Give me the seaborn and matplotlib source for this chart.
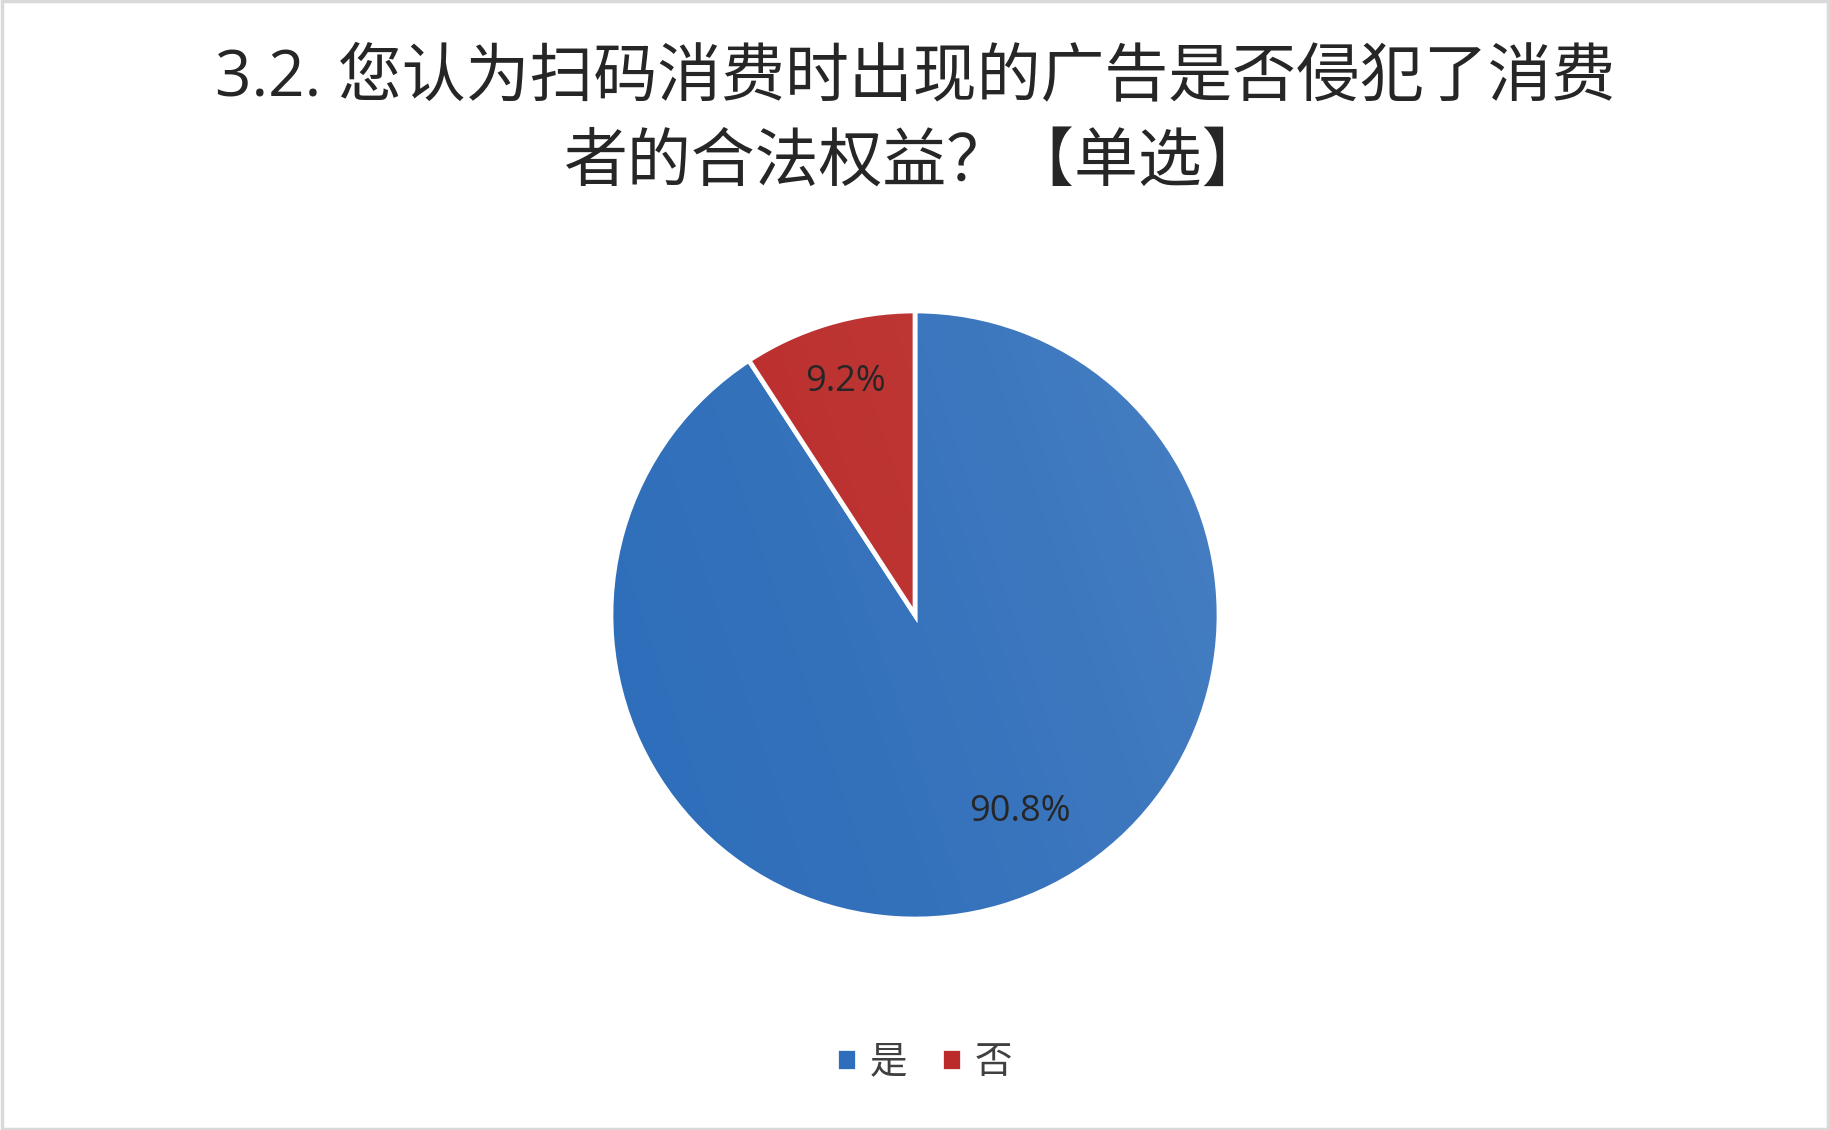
import numpy as np
import seaborn as sns
import matplotlib
matplotlib.use('Agg')
import matplotlib.pyplot as plt
from matplotlib.patches import Rectangle

# 数据
labels = ['是', '否']
values = [90.8, 9.2]
colors = ['#2F6EBA', '#BA2B29']
title = '3.2. 您认为扫码消费时出现的广告是否侵犯了消费\n者的合法权益？【单选】'

sns.set_theme(style='white')
plt.rcParams['font.family'] = ['Noto Sans CJK SC', 'DejaVu Sans']

W, H = 1830, 1130
fig = plt.figure(figsize=(W / 100, H / 100), dpi=100)
fig.patch.set_facecolor('white')

# 饼图区域：圆心 (915, 615)，半径约 304 像素
r_px = 304
side = 720
cx, cy = 915, 615
ax = fig.add_axes([(cx - side / 2) / W, (H - cy - side / 2) / H, side / W, side / H])
lim = side / 2 / r_px

wedges, _, autotexts = ax.pie(
    values, colors=colors, startangle=90, counterclock=False,
    autopct='%.1f%%', pctdistance=0.8,
    wedgeprops=dict(edgecolor='white', linewidth=3.4),
    textprops=dict(fontsize=26, color='#262626', family=['Open Sans', 'Noto Sans CJK SC']),
)
ax.set_xlim(-lim, lim)
ax.set_ylim(-lim, lim)
ax.set_aspect('equal')
ax.axis('off')

# 轻微的渐变效果（右下方略亮）
gx, gy = np.meshgrid(np.linspace(0, 1, 200), np.linspace(0, 1, 200))
grad = np.clip(0.75 * gx + 0.25 * (1 - gy), 0, 1)
rgba = np.zeros((200, 200, 4))
rgba[..., :3] = 1.0
rgba[..., 3] = 0.12 * grad ** 1.5
for w in wedges:
    im = ax.imshow(rgba, extent=(-1, 1, -1, 1), origin='upper', zorder=w.get_zorder() + 0.1,
                   interpolation='bilinear')
    im.set_clip_path(w)
ax.set_xlim(-lim, lim)
ax.set_ylim(-lim, lim)
for t in autotexts:
    t.set_zorder(10)

# 标签位置
ang = np.deg2rad(-62)
autotexts[0].set_position((0.735 * np.cos(ang), 0.735 * np.sin(ang)))
ang = np.deg2rad(106.5)
autotexts[1].set_position((0.80 * np.cos(ang), 0.80 * np.sin(ang)))

# 标题
fig.text(0.5, 1 - 121 / H, title, ha='center', va='center', fontsize=46,
         color='#262626', linespacing=1.42,
         family=['Open Sans', 'Noto Sans CJK SC'])

# 图例
leg = fig.legend(wedges, labels, loc='center', bbox_to_anchor=(0.505, 1 - 1062 / H),
                 ncol=2, frameon=False, fontsize=27, handlelength=0.55, handleheight=0.55,
                 handletextpad=0.35, columnspacing=0.9, labelcolor='#404040')

# 外框
fig.patches.append(Rectangle((0.001, 0.001), 0.998, 0.998, transform=fig.transFigure,
                             fill=False, edgecolor='#D9D9D9', linewidth=2.5))

fig.savefig('out.png', dpi=100)
